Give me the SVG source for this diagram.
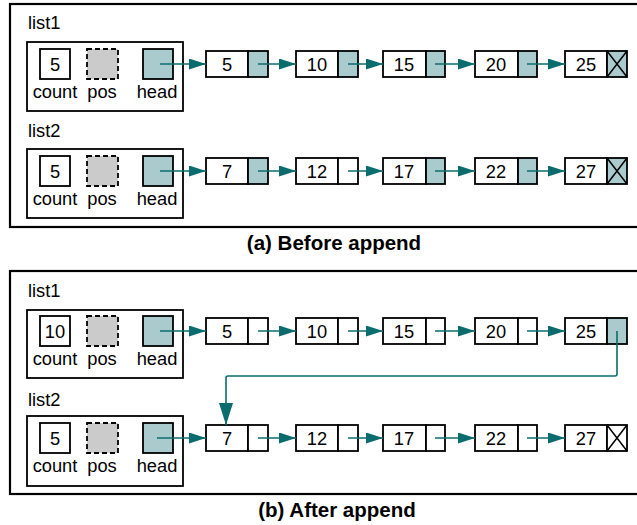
<svg xmlns="http://www.w3.org/2000/svg" width="637" height="525" viewBox="0 0 637 525">
<style>
text{font-family:"Liberation Sans",Arial,sans-serif;font-size:18.3px;fill:#000}
.cap{font-weight:bold;font-size:20.5px;text-anchor:middle}
.c{text-anchor:middle}
.frame{fill:none;stroke:#000;stroke-width:2.2}
.sbox{fill:#fff;stroke:#000;stroke-width:1.8}
.box{fill:#fff;stroke:#000;stroke-width:1.8}
.sh{fill:#a9cbce;stroke:#000;stroke-width:1.8}
.pos{fill:#cbcbcb;stroke:#000;stroke-width:1.8;stroke-dasharray:5 3}
.x{stroke:#000;stroke-width:1.5}
.ln{fill:none;stroke:#0b6c6e;stroke-width:1.6}
</style>
<defs>
<marker id="ah" markerUnits="userSpaceOnUse" markerWidth="17" markerHeight="11" refX="17" refY="5.5" orient="auto">
<path d="M0,0 L17,5.5 L0,11 z" fill="#0b6c6e"/>
</marker>
<marker id="ahb" markerUnits="userSpaceOnUse" markerWidth="22" markerHeight="14" refX="22" refY="7" orient="auto">
<path d="M0,0 L22,7 L0,14 z" fill="#0b6c6e"/>
</marker>
</defs>

<rect class="frame" x="10" y="4" width="640" height="223"/>
<rect class="frame" x="10" y="271" width="640" height="223"/>
<text class="cap" x="334" y="250">(a) Before append</text>
<text class="cap" x="337" y="517">(b) After append</text>

<!-- Panel (a) list1 -->
<g id="a-list1">
<text x="28" y="29">list1</text>
<rect class="sbox" x="27" y="42" width="156" height="69"/>
<rect class="box" x="40" y="49" width="30" height="30"/><text class="c" x="55" y="71">5</text>
<rect class="pos" x="87" y="49" width="31" height="30"/>
<rect class="sh" x="143" y="49" width="30" height="30"/>
<text class="c" x="55" y="98">count</text><text class="c" x="102" y="98">pos</text><text class="c" x="157" y="98">head</text>
</g>
<g id="a1-n1"><rect class="box" x="206" y="51" width="42" height="26"/><rect class="sh" x="248" y="51" width="20" height="26"/><text class="c" x="227" y="71">5</text></g>
<g id="a1-n2"><rect class="box" x="296" y="51" width="42" height="26"/><rect class="sh" x="338" y="51" width="20" height="26"/><text class="c" x="317" y="71">10</text></g>
<g id="a1-n3"><rect class="box" x="383" y="51" width="43" height="26"/><rect class="sh" x="426" y="51" width="19" height="26"/><text class="c" x="404" y="71">15</text></g>
<g id="a1-n4"><rect class="box" x="475" y="51" width="43" height="26"/><rect class="sh" x="518" y="51" width="19" height="26"/><text class="c" x="496" y="71">20</text></g>
<g id="a1-n5"><rect class="box" x="565" y="51" width="42" height="26"/><rect class="sh" x="607" y="51" width="20" height="26"/><path class="x" d="M607,51 L627,77 M627,51 L607,77"/><text class="c" x="586" y="71">25</text></g>

<!-- Panel (a) list2 -->
<g id="a-list2">
<text x="28" y="137">list2</text>
<rect class="sbox" x="27" y="149" width="156" height="69"/>
<rect class="box" x="40" y="156" width="30" height="30"/><text class="c" x="55" y="178">5</text>
<rect class="pos" x="87" y="156" width="31" height="30"/>
<rect class="sh" x="143" y="156" width="30" height="30"/>
<text class="c" x="55" y="205">count</text><text class="c" x="102" y="205">pos</text><text class="c" x="157" y="205">head</text>
</g>
<g id="a2-n1"><rect class="box" x="206" y="158" width="42" height="26"/><rect class="sh" x="248" y="158" width="20" height="26"/><text class="c" x="227" y="178">7</text></g>
<g id="a2-n2"><rect class="box" x="296" y="158" width="42" height="26"/><rect class="box" x="338" y="158" width="20" height="26"/><text class="c" x="317" y="178">12</text></g>
<g id="a2-n3"><rect class="box" x="383" y="158" width="43" height="26"/><rect class="sh" x="426" y="158" width="19" height="26"/><text class="c" x="404" y="178">17</text></g>
<g id="a2-n4"><rect class="box" x="475" y="158" width="43" height="26"/><rect class="sh" x="518" y="158" width="19" height="26"/><text class="c" x="496" y="178">22</text></g>
<g id="a2-n5"><rect class="box" x="565" y="158" width="42" height="26"/><rect class="sh" x="607" y="158" width="20" height="26"/><path class="x" d="M607,158 L627,184 M627,158 L607,184"/><text class="c" x="586" y="178">27</text></g>

<!-- Panel (b) list1 -->
<g id="b-list1">
<text x="28" y="297">list1</text>
<rect class="sbox" x="27" y="310" width="156" height="68"/>
<rect class="box" x="40" y="316" width="30" height="30"/><text class="c" x="55" y="338">10</text>
<rect class="pos" x="87" y="316" width="31" height="30"/>
<rect class="sh" x="143" y="316" width="30" height="30"/>
<text class="c" x="55" y="365">count</text><text class="c" x="102" y="365">pos</text><text class="c" x="157" y="365">head</text>
</g>
<g id="b1-n1"><rect class="box" x="206" y="318" width="42" height="26"/><rect class="box" x="248" y="318" width="20" height="26"/><text class="c" x="227" y="338">5</text></g>
<g id="b1-n2"><rect class="box" x="296" y="318" width="42" height="26"/><rect class="box" x="338" y="318" width="20" height="26"/><text class="c" x="317" y="338">10</text></g>
<g id="b1-n3"><rect class="box" x="383" y="318" width="43" height="26"/><rect class="box" x="426" y="318" width="19" height="26"/><text class="c" x="404" y="338">15</text></g>
<g id="b1-n4"><rect class="box" x="475" y="318" width="43" height="26"/><rect class="box" x="518" y="318" width="19" height="26"/><text class="c" x="496" y="338">20</text></g>
<g id="b1-n5"><rect class="box" x="565" y="318" width="42" height="26"/><rect class="sh" x="607" y="318" width="20" height="26"/><text class="c" x="586" y="338">25</text></g>

<!-- Panel (b) list2 -->
<g id="b-list2">
<text x="28" y="406">list2</text>
<rect class="sbox" x="27" y="416" width="156" height="70"/>
<rect class="box" x="40" y="423" width="30" height="30"/><text class="c" x="55" y="445">5</text>
<rect class="pos" x="87" y="423" width="31" height="30"/>
<rect class="sh" x="143" y="423" width="30" height="30"/>
<text class="c" x="55" y="472">count</text><text class="c" x="102" y="472">pos</text><text class="c" x="157" y="472">head</text>
</g>
<g id="b2-n1"><rect class="box" x="206" y="425" width="42" height="26"/><rect class="box" x="248" y="425" width="20" height="26"/><text class="c" x="227" y="445">7</text></g>
<g id="b2-n2"><rect class="box" x="296" y="425" width="42" height="26"/><rect class="box" x="338" y="425" width="20" height="26"/><text class="c" x="317" y="445">12</text></g>
<g id="b2-n3"><rect class="box" x="383" y="425" width="43" height="26"/><rect class="box" x="426" y="425" width="19" height="26"/><text class="c" x="404" y="445">17</text></g>
<g id="b2-n4"><rect class="box" x="475" y="425" width="43" height="26"/><rect class="box" x="518" y="425" width="19" height="26"/><text class="c" x="496" y="445">22</text></g>
<g id="b2-n5"><rect class="box" x="565" y="425" width="42" height="26"/><rect class="box" x="607" y="425" width="20" height="26"/><path class="x" d="M607,425 L627,451 M627,425 L607,451"/><text class="c" x="586" y="445">27</text></g>

<g id="connectors">
<path class="ln" marker-end="url(#ah)" d="M160,64 H206"/>
<path class="ln" marker-end="url(#ah)" d="M258,64 H296"/>
<path class="ln" marker-end="url(#ah)" d="M348,64 H383"/>
<path class="ln" marker-end="url(#ah)" d="M435,64 H475"/>
<path class="ln" marker-end="url(#ah)" d="M527,64 H565"/>

<path class="ln" marker-end="url(#ah)" d="M160,171 H206"/>
<path class="ln" marker-end="url(#ah)" d="M258,171 H296"/>
<path class="ln" marker-end="url(#ah)" d="M348,171 H383"/>
<path class="ln" marker-end="url(#ah)" d="M435,171 H475"/>
<path class="ln" marker-end="url(#ah)" d="M527,171 H565"/>

<path class="ln" marker-end="url(#ah)" d="M160,331 H206"/>
<path class="ln" marker-end="url(#ah)" d="M258,331 H296"/>
<path class="ln" marker-end="url(#ah)" d="M348,331 H383"/>
<path class="ln" marker-end="url(#ah)" d="M435,331 H475"/>
<path class="ln" marker-end="url(#ah)" d="M527,331 H565"/>
<path class="ln" marker-end="url(#ahb)" d="M617,331 V374 Q617,376 615,376 H228 Q226,376 226,378 V425"/>

<path class="ln" marker-end="url(#ah)" d="M157,438 H206"/>
<path class="ln" marker-end="url(#ah)" d="M258,438 H296"/>
<path class="ln" marker-end="url(#ah)" d="M348,438 H383"/>
<path class="ln" marker-end="url(#ah)" d="M435,438 H475"/>
<path class="ln" marker-end="url(#ah)" d="M527,438 H565"/>
</g>
</svg>
